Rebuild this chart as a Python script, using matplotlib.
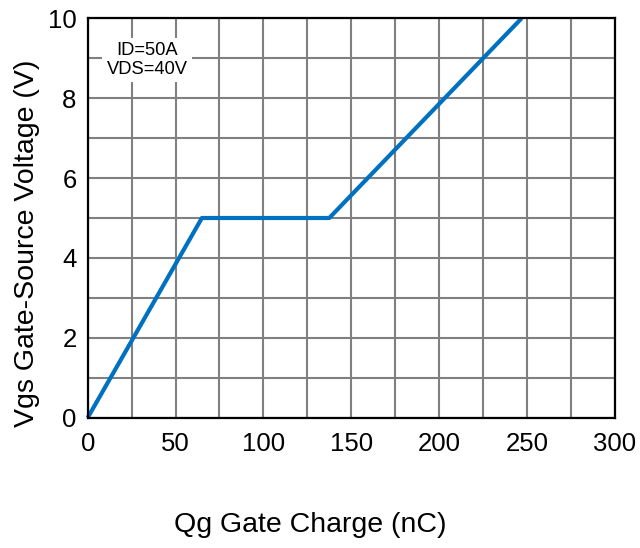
import matplotlib
matplotlib.use("Agg")
import matplotlib.pyplot as plt
from matplotlib import ticker

# Gate charge curve (Qg in nC, Vgs in V)
qg = [0, 65, 137.5, 247]
vgs = [0, 5, 5, 10]

x_ticks = [0, 50, 100, 150, 200, 250, 300]
y_ticks = [0, 2, 4, 6, 8, 10]
note_lines = ["ID=50A", "VDS=40V"]

plt.rcParams["font.family"] = ["Liberation Sans", "DejaVu Sans"]

fig = plt.figure(figsize=(6.4, 5.48), dpi=100)
ax = fig.add_axes([87.7 / 640, 1 - 417.7 / 548, 527 / 640, 399.4 / 548])

ax.set_xlim(0, 300)
ax.set_ylim(0, 10)
ax.set_xticks(x_ticks)
ax.set_yticks(y_ticks)
ax.xaxis.set_minor_locator(ticker.MultipleLocator(25))
ax.yaxis.set_minor_locator(ticker.MultipleLocator(1))
ax.grid(True, which="both", color="#808080", linewidth=1.5)
ax.set_axisbelow(True)
ax.tick_params(which="both", length=0, labelsize=18.5)
ax.tick_params(axis="x", pad=10)
ax.tick_params(axis="y", pad=8)

for s in ax.spines.values():
    s.set_linewidth(1.6)
    s.set_color("black")
    s.set_zorder(5)

ax.plot(qg, vgs, color="#0070C0", linewidth=3, solid_capstyle="butt",
        clip_on=False, zorder=4)

ax.text(147 / 640, 1 - 60 / 548, "\n".join(note_lines), transform=fig.transFigure,
        ha="center", va="center", fontsize=13.2, linespacing=1.1, zorder=3,
        bbox=dict(facecolor="white", edgecolor="none", pad=3))

fig.text(310 / 640, 1 - 525 / 548, "Qg Gate Charge (nC)", ha="center",
         va="center", fontsize=20.5)
fig.text(27 / 640, 1 - 243 / 548, "Vgs Gate-Source Voltage (V)", ha="center",
         va="center", rotation=90, fontsize=20.5)

fig.savefig("out.png", dpi=100)
